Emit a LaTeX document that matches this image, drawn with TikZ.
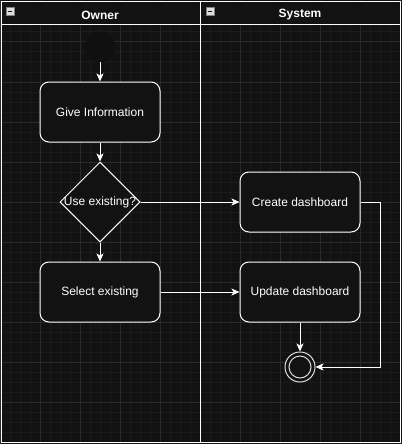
\documentclass[tikz,border=0pt]{standalone}
\usepackage{fontspec}
\setmainfont{Liberation Sans}
\usetikzlibrary{arrows.meta,shapes.geometric}
\definecolor{bg}{HTML}{121212}
\definecolor{startc}{HTML}{101010}
\definecolor{gminor}{HTML}{1B1B1B}
\definecolor{gmajor}{HTML}{2A2A2A}
\definecolor{endc}{HTML}{DDDDDD}
\tikzset{
  stepbox/.style={draw=white, line width=1pt, fill=bg, rounded corners=9pt, minimum width=120pt, minimum height=60pt, inner sep=0pt, text=white, font=\fontsize{12}{14}\selectfont},
  decbox/.style={draw=white, line width=1pt, fill=bg, diamond, aspect=1, minimum width=80pt, minimum height=80pt, inner sep=0pt},
  lbl/.style={text=white, font=\fontsize{12}{14}\selectfont, inner sep=0pt},
  hdr/.style={text=white, font=\bfseries\fontsize{12}{14}\selectfont, inner sep=0pt},
  flow/.style={draw=white, line width=1pt, -{Stealth[length=8pt,width=7pt,inset=2pt]}},
  lane/.style={draw=white, line width=1pt},
  icon/.style={draw=gray, fill=endc, minimum width=8pt, minimum height=8pt, inner sep=0pt},
}
\begin{document}
\begin{tikzpicture}[x=1pt,y=-1pt]
\useasboundingbox (0,0) rectangle (402,444);
\fill[bg] (0,0) rectangle (402,444);
\foreach \x in {0,10,...,400} \draw[gminor, line width=1pt] (\x,0) -- (\x,444);
\foreach \y in {2,12,...,442} \draw[gminor, line width=1pt] (0,\y) -- (402,\y);
\foreach \x in {0,40,...,400} \draw[gmajor, line width=1pt] (\x,0) -- (\x,444);
\foreach \y in {2,42,...,442} \draw[gmajor, line width=1pt] (0,\y) -- (402,\y);
% pool
\fill[bg] (1,2) rectangle (400,25);
\draw[lane] (1,2) rectangle (400,442);
\draw[lane] (1,25) -- (400,25);
\draw[lane] (200,2) -- (200,442);
\node[hdr] (h1) at (100,15) {Owner};
\node[hdr] (h2) at (300,15) {System};
\node[icon] (i1) at (10,11.5) {};
\node[icon] (i2) at (210,11.5) {};
\draw[bg, line width=1.2pt] (i1.west) ++(2,0) -- ++(4,0);
\draw[bg, line width=1.2pt] (i2.west) ++(2,0) -- ++(4,0);
% nodes
\node[circle, fill=startc, draw=startc, minimum size=30pt, inner sep=0pt] (start) at (100,47) {};
\node[stepbox] (give) at (100,112) {Give Information};
\node[decbox] (dec) at (100,202) {};
\node[lbl] (dect) at (dec.center) {Use existing?};
\node[stepbox] (sel) at (100,292) {Select existing};
\node[stepbox] (create) at (300,202) {Create dashboard};
\node[stepbox] (update) at (300,292) {Update dashboard};
\node[circle, draw=endc, line width=1pt, fill=bg, minimum size=30pt, inner sep=0pt] (end) at (300,367) {};
\node[circle, draw=endc, line width=1pt, minimum size=22pt, inner sep=0pt] (endin) at (end.center) {};
\coordinate (c1) at (380,202);
\coordinate (c2) at (380,367);
% edges
\draw[flow] (start) -- (give);
\draw[flow] (give) -- (dec);
\draw[flow] (dec) -- (sel);
\draw[flow] (dec.east) -- (create.west);
\draw[flow] (sel.east) -- (update.west);
\draw[flow] (update) -- (end);
\draw[flow] (create.east) -- (c1) -- (c2) -- (end.east);
\end{tikzpicture}
\end{document}
